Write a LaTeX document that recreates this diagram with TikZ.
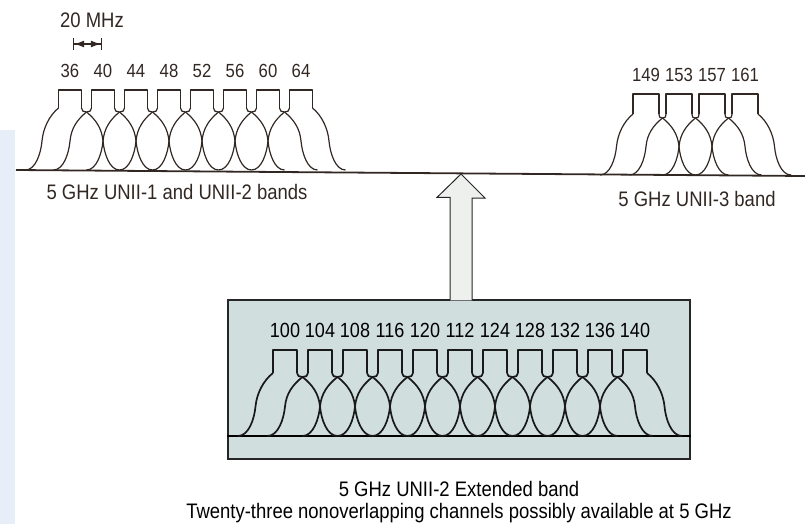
\documentclass[tikz,border=0pt]{standalone}
\usepackage{fontspec}
\setmainfont{Liberation Sans}
\newfontfamily\condfont[FakeStretch=0.88]{Liberation Sans}
\usepackage{xcolor}
\usetikzlibrary{arrows.meta,positioning}

\definecolor{scanink}{RGB}{50,40,35}
\definecolor{boxfill}{RGB}{208,222,222}
\definecolor{arrowfill}{RGB}{238,240,238}
\definecolor{edgeblue}{RGB}{232,238,248}

% #1 first centre, #2 spacing, #3 channels, #4 top width, #5 top y, #6 notch y, #7 base y, #8 style
\newcommand{\drawband}[8]{%
  \pgfmathsetmacro{\bh}{#4/2}%
  \pgfmathsetmacro{\bH}{#7-#6}%
  \pgfmathtruncatemacro{\blast}{#3-1}%
  \pgfmathsetmacro{\bL}{#1-\bh}%
  \pgfmathsetmacro{\bR}{#1+\blast*#2+\bh}%
  \foreach \i in {0,...,\blast}
    \draw[#8] ({#1+\i*#2-\bh},{#6-4}) |- ({#1+\i*#2+\bh},#5) -- ({#1+\i*#2+\bh},{#6-4});
  \foreach \i in {1,...,\blast}{
    \pgfmathsetmacro{\bm}{#1+(\i-0.5)*#2}
    \draw[#8] ({#1+(\i-1)*#2+\bh},{#6-4}) .. controls +(0,3) and +(-3,0) .. (\bm,#6)
      .. controls +(3,0) and +(0,3) .. ({#1+\i*#2-\bh},{#6-4});
    \draw[#8] (\bm,#6) .. controls +({0.28*#2},{0.13*\bH}) and +({-0.035*#2},{-0.22*\bH})
      .. ({\bm+0.5*#2},{#6+0.5*\bH}) .. controls +({0.035*#2},{0.22*\bH}) and +({-0.3*#2},0) .. ({\bm+#2},#7);
    \draw[#8] (\bm,#6) .. controls +({-0.28*#2},{0.13*\bH}) and +({0.035*#2},{-0.22*\bH})
      .. ({\bm-0.5*#2},{#6+0.5*\bH}) .. controls +({-0.035*#2},{0.22*\bH}) and +({0.3*#2},0) .. ({\bm-#2},#7);
  }
  \draw[#8] (\bL,{#6-4}) .. controls +({-0.28*#2},{0.13*\bH}) and +({0.035*#2},{-0.22*\bH})
    .. ({\bL-0.5*#2},{#6+0.5*\bH}) .. controls +({-0.035*#2},{0.22*\bH}) and +({0.3*#2},0) .. ({\bL-#2},#7);
  \draw[#8] (\bR,{#6-4}) .. controls +({0.28*#2},{0.13*\bH}) and +({-0.035*#2},{-0.22*\bH})
    .. ({\bR+0.5*#2},{#6+0.5*\bH}) .. controls +({0.035*#2},{0.22*\bH}) and +({-0.3*#2},0) .. ({\bR+#2},#7);
}

\begin{document}
\begin{tikzpicture}[
  x=1pt, y=-1pt,
  spec/.style={draw=scanink, line width=1.2pt, line join=round},
  specbold/.style={draw=black!90, line width=1.7pt, line join=round},
  lbl/.style={font=\condfont\fontsize{21}{24}\selectfont, text=scanink, inner sep=0pt},
  chnum/.style={font=\condfont\fontsize{19}{22}\selectfont, text=scanink, inner sep=0pt},
  boxnum/.style={font=\condfont\fontsize{20.5}{24}\selectfont, text=black, inner sep=0pt},
  boxlbl/.style={font=\condfont\fontsize{21}{24}\selectfont, text=black, inner sep=0pt},
  bigarrow/.style={draw=black!85, line width=1pt, fill=arrowfill, line join=miter},
  dim/.style={{Bar[width=12pt]Latex[length=10pt,width=7pt]}-{Latex[length=10pt,width=7pt]Bar[width=12pt]}, line width=1.2pt, draw=scanink, fill=scanink}
]
\useasboundingbox (0,0) rectangle (805,524);
\fill[edgeblue] (0,130) rectangle (15,524);

\node[lbl] (mhz) at (92,20) {20 MHz};
\coordinate (dimL) at (73,44);
\coordinate (dimR) at (102,44);
\draw[dim] (dimL) -- (dimR);

\node[rectangle, draw=black!85, line width=1.2pt, fill=boxfill, minimum width=462pt,
  minimum height=159pt, inner sep=0pt] (extbox) at (459,379.5) {};

\coordinate (baseL) at (16,170);
\coordinate (baseR) at (805,176);
\draw[line width=1.8pt, scanink] (baseL) -- (baseR);
\coordinate (yb) at (0,436);
\draw[line width=2.2pt] (extbox.west |- yb) -- (extbox.east |- yb);

\drawband{70}{33}{8}{23}{90}{112}{170}{spec}
\drawband{646}{33}{4}{26}{94}{118}{175}{spec}
\drawband{285}{35}{11}{24}{350}{377}{436}{specbold}

\foreach \ch [count=\k from 0] in {36,40,...,64}
  \node[chnum] (ch\ch) at ({70+\k*33},71) {\ch};
\foreach \ch [count=\k from 0] in {149,153,157,161}
  \node[chnum] (ch\ch) at ({646+\k*33},75) {\ch};
\foreach \ch [count=\k from 0] in {100,104,108,116,120,112,124,128,132,136,140}
  \node[boxnum] (ext\k) at ({285+\k*35},330) {\ch};

\node[lbl] (lowband) at (177,192) {5 GHz UNII-1 and UNII-2 bands};
\node[lbl] (highband) at (697,199) {5 GHz UNII-3 band};

\coordinate (tip) at (461,174);
\coordinate (shaft) at (tip |- extbox.north);
\draw[bigarrow] ([xshift=-11pt,yshift=-1pt]shaft) -- ++(0,-103) -- ++(-13,0) -- (tip)
  -- ++(24,24) -- ++(-13,0) -- ([xshift=11pt,yshift=-1pt]shaft);

\node[boxlbl] (extlabel) at (459,489) {5 GHz UNII-2 Extended band};
\node[boxlbl, below=6pt of extlabel] (overlap) {Twenty-three nonoverlapping channels possibly available at 5 GHz};
\end{tikzpicture}
\end{document}
